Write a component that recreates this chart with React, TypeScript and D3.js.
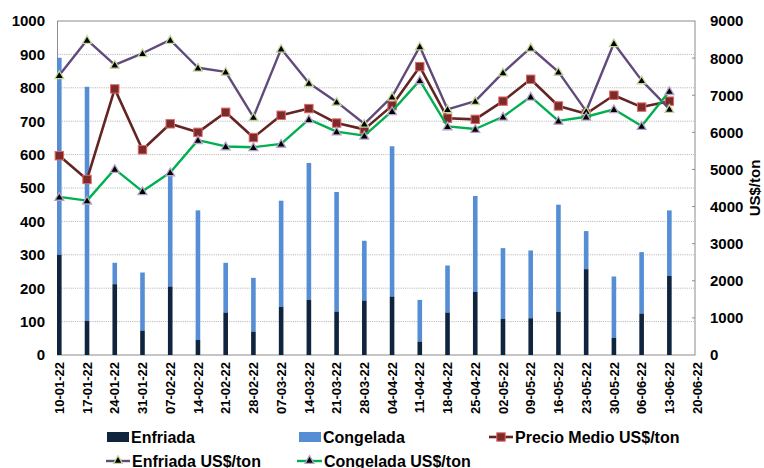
import React from 'react';
import * as d3 from 'd3';

const categories = [
  '10-01-22', '17-01-22', '24-01-22', '31-01-22', '07-02-22', '14-02-22', '21-02-22', '28-02-22',
  '07-03-22', '14-03-22', '21-03-22', '28-03-22', '04-04-22', '11-04-22', '18-04-22', '25-04-22',
  '02-05-22', '09-05-22', '16-05-22', '23-05-22', '30-05-22', '06-06-22', '13-06-22', '20-06-22',
];

// toneladas (eje izq.)
const enfriada = [300, 102, 212, 73, 205, 45, 127, 70, 144, 165, 130, 163, 175, 40, 127, 189, 108, 110, 129, 257, 51, 124, 237];
const congelada = [590, 701, 64, 174, 335, 388, 149, 161, 318, 410, 358, 179, 450, 125, 141, 287, 212, 203, 321, 114, 184, 184, 196];

// US$/ton (eje der.)
const precioMedio = [5370, 4730, 7170, 5530, 6230, 6000, 6540, 5860, 6460, 6640, 6250, 6080, 6720, 7770, 6380, 6350, 6840, 7430, 6710, 6500, 7000, 6680, 6840];
const enfriadaUsd = [7540, 8490, 7820, 8130, 8490, 7740, 7630, 6410, 8250, 7330, 6820, 6230, 6960, 8310, 6620, 6840, 7610, 8280, 7630, 6570, 8400, 7400, 6630];
const congeladaUsd = [4260, 4160, 5010, 4410, 4920, 5790, 5620, 5600, 5690, 6350, 6020, 5910, 6570, 7400, 6160, 6090, 6420, 6960, 6310, 6420, 6620, 6170, 7110];

const leftTicks = [0, 100, 200, 300, 400, 500, 600, 700, 800, 900, 1000];
const rightTicks = [0, 1000, 2000, 3000, 4000, 5000, 6000, 7000, 8000, 9000];

const W = 764;
const H = 468;
const plot = { left: 57.5, right: 695, top: 21, bottom: 355 };
const font = '"Liberation Sans", Arial, sans-serif';

const C = {
  dark: '#10243e',
  light: '#558ed5',
  precio: '#632523',
  precioMarker: '#7b2c2a',
  precioEdge: '#e06666',
  enfLine: '#604a7b',
  enfEdge: '#c3d69b',
  conLine: '#00b050',
  conEdge: '#b3a2c7',
};

const x = d3.scalePoint<string>().domain(categories).range([59.3, 59.3 + 27.73 * 23]);
const yL = d3.scaleLinear().domain([0, 1000]).range([plot.bottom, plot.top]);
const yR = d3.scaleLinear().domain([0, 9000]).range([plot.bottom, plot.top]);

const tri = d3.symbol().type(d3.symbolTriangle).size(34)() as string;

const lineGen = d3.line<number>()
  .x((_, i) => x(categories[i]) as number)
  .y(d => yR(d));

const Triangle = ({ cx, cy, edge }: { cx: number; cy: number; edge: string }) => (
  <path d={tri} transform={`translate(${cx},${cy + 0.8})`} fill="#000" stroke={edge} strokeWidth={1.3} />
);

const Square = ({ cx, cy }: { cx: number; cy: number }) => (
  <rect x={cx - 4.2} y={cy - 4.2} width={8.4} height={8.4} fill={C.precioMarker} stroke={C.precioEdge} strokeWidth={1} />
);

const App: React.FC = () => {
  const barW = 4.6;
  const vals = enfriada.map((e, i) => ({ cat: categories[i], e, c: congelada[i] }));

  return (
    <svg width={W} height={H} style={{ position: 'absolute', left: 0, top: 0, display: 'block', background: '#fff' }} fontFamily={font}>
      {/* grid */}
      {leftTicks.slice(1, -1).map(t => (
        <line key={t} x1={plot.left} x2={plot.right} y1={yL(t)} y2={yL(t)} stroke="#9a9a9a" strokeWidth={0.8} strokeDasharray="1,1.2" />
      ))}
      <rect x={plot.left} y={plot.top} width={plot.right - plot.left} height={plot.bottom - plot.top} fill="none" stroke="#8c8c8c" strokeWidth={1} />
      {/* right axis ticks */}
      {rightTicks.slice(1, -1).map(t => (
        <line key={t} x1={plot.right - 3} x2={plot.right} y1={yR(t)} y2={yR(t)} stroke="#8c8c8c" />
      ))}

      {/* bars */}
      {vals.map(v => {
        const cx = x(v.cat) as number;
        return (
          <g key={v.cat}>
            <rect x={cx - barW / 2} y={yL(v.e + v.c)} width={barW} height={yL(v.e) - yL(v.e + v.c)} fill={C.light} />
            <rect x={cx - barW / 2} y={yL(v.e)} width={barW} height={yL(0) - yL(v.e)} fill={C.dark} />
          </g>
        );
      })}

      {/* lines */}
      <path d={lineGen(precioMedio) as string} fill="none" stroke={C.precio} strokeWidth={2.6} strokeLinejoin="round" />
      {precioMedio.map((d, i) => <Square key={i} cx={x(categories[i]) as number} cy={yR(d)} />)}

      <path d={lineGen(enfriadaUsd) as string} fill="none" stroke={C.enfLine} strokeWidth={2.4} strokeLinejoin="round" />
      {enfriadaUsd.map((d, i) => <Triangle key={i} cx={x(categories[i]) as number} cy={yR(d)} edge={C.enfEdge} />)}

      <path d={lineGen(congeladaUsd) as string} fill="none" stroke={C.conLine} strokeWidth={2.4} strokeLinejoin="round" />
      {congeladaUsd.map((d, i) => <Triangle key={i} cx={x(categories[i]) as number} cy={yR(d)} edge={C.conEdge} />)}

      {/* left axis labels */}
      {leftTicks.map(t => (
        <text key={t} x={45} y={yL(t)} dy="0.36em" textAnchor="end" fontSize={15} fontWeight="bold" fill="#000">{t}</text>
      ))}
      {/* right axis labels */}
      {rightTicks.map(t => (
        <text key={t} x={710} y={yR(t)} dy="0.36em" textAnchor="start" fontSize={15} fontWeight="bold" fill="#000">{t}</text>
      ))}
      <text transform="translate(755,188) rotate(-90)" dy="0.36em" textAnchor="middle" fontSize={15} fontWeight="bold" fill="#000">US$/ton</text>

      {/* x labels */}
      {categories.map(c => (
        <text key={c} transform={`translate(${x(c)},362) rotate(-90)`} dy="0.36em" textAnchor="end" fontSize={13} fontWeight="bold" fill="#000">{c}</text>
      ))}

      {/* legend */}
      <g fontSize={16} fontWeight="bold" fill="#000">
        <rect x={107} y={432} width={22} height={10} fill={C.dark} />
        <text x={131} y={437} dy="0.36em">Enfriada</text>

        <rect x={299} y={432} width={22} height={10} fill={C.light} />
        <text x={323} y={437} dy="0.36em">Congelada</text>

        <line x1={489} x2={513} y1={437} y2={437} stroke={C.precio} strokeWidth={2.6} />
        <Square cx={501} cy={437} />
        <text x={515} y={437} dy="0.36em">Precio Medio US$/ton</text>

        <line x1={106} x2={130} y1={461} y2={461} stroke={C.enfLine} strokeWidth={2.4} />
        <Triangle cx={118} cy={460} edge={C.enfEdge} />
        <text x={132} y={461} dy="0.36em">Enfriada US$/ton</text>

        <line x1={297} x2={322} y1={461} y2={461} stroke={C.conLine} strokeWidth={2.4} />
        <Triangle cx={309.5} cy={460} edge={C.conEdge} />
        <text x={324} y={461} dy="0.36em">Congelada US$/ton</text>
      </g>
    </svg>
  );
};

export default App;
